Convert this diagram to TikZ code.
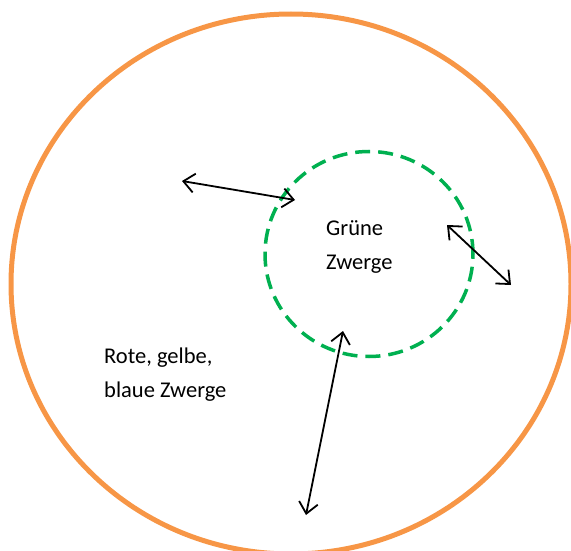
\documentclass[tikz,border=0pt]{standalone}
\usepackage{fontspec}
\setmainfont{Carlito}
\usetikzlibrary{arrows.meta,shapes.geometric}
\definecolor{orng}{HTML}{F79646}
\definecolor{grn}{HTML}{00B050}
\begin{document}
\begin{tikzpicture}[x=1pt,y=-1pt,
  ring/.style={ellipse,draw,inner sep=0pt},
  lbl/.style={align=left,anchor=north west,inner sep=0pt,font=\fontsize{22.5}{34}\selectfont},
  dbl/.style={line width=1.8pt,{Straight Barb[length=11pt,width=19pt,line width=1.8pt]}-{Straight Barb[length=11pt,width=19pt,line width=1.8pt]}}]
\useasboundingbox (0,0) rectangle (571,551);
\node[ring,draw=orng,line width=5pt,minimum width=560pt,minimum height=540pt] (outer) at (291,284) {};
\node[ring,draw=grn,line width=3.5pt,dash pattern=on 15pt off 8pt,minimum width=208pt,minimum height=205pt] (inner) at (369,254) {};
\node[lbl] (gz) at (326,220) {Grüne\\Zwerge};
\node[lbl] (rz) at (104,348) {Rote, gelbe,\\blaue Zwerge};
\coordinate (a1) at (182,181);
\coordinate (b1) at (295,200);
\coordinate (a2) at (447,225);
\coordinate (b2) at (511,285);
\coordinate (a3) at (343,331);
\coordinate (b3) at (306,515);
\draw[dbl] (a1) -- (b1);
\draw[dbl] (a2) -- (b2);
\draw[dbl] (a3) -- (b3);
\end{tikzpicture}
\end{document}
